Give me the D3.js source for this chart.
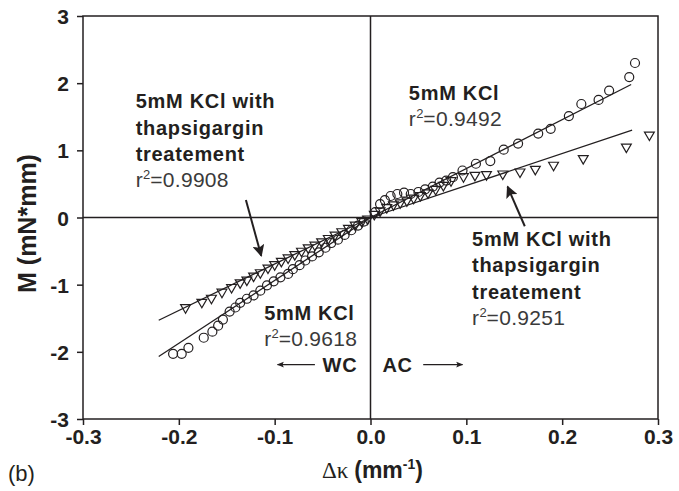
<!DOCTYPE html>
<html>
<head>
    <title>Moment vs curvature</title>
    <script type="text/javascript" src="https://cdn.jsdelivr.net/npm/d3@7/dist/d3.min.js"></script>
    <meta charset="utf-8" />
    <style>
        body { margin: 0; background: #fff; }
        svg text { font-family: "Liberation Sans", Arial, sans-serif; fill: #231f20; }
    </style>
</head>
<body>
    <svg width="679" height="491"></svg>
    <script>

        // 5mM KCl (circles)
        var circleK = [-0.206, -0.197, -0.190, -0.174, -0.165, -0.159, -0.154, -0.147, -0.141, -0.136,
                       -0.129, -0.122, -0.115, -0.108, -0.101, -0.094, -0.086, -0.081, -0.074, -0.068,
                       -0.061, -0.054, -0.047, -0.041, -0.034, -0.027, -0.020, -0.013, -0.007,
                        0.005, 0.010, 0.015, 0.021, 0.028, 0.035, 0.042, 0.050, 0.057, 0.065,
                        0.072, 0.079, 0.086, 0.096, 0.110, 0.125, 0.139, 0.154, 0.175, 0.188,
                        0.207, 0.220, 0.238, 0.249, 0.270, 0.276];
        var circleM = [-2.03, -2.03, -1.94, -1.79, -1.70, -1.61, -1.52, -1.40, -1.34, -1.27,
                       -1.21, -1.16, -1.09, -1.01, -0.95, -0.89, -0.84, -0.77, -0.71, -0.64,
                       -0.58, -0.52, -0.45, -0.38, -0.33, -0.26, -0.19, -0.12, -0.06,
                        0.08, 0.20, 0.26, 0.32, 0.35, 0.37, 0.35, 0.38, 0.42, 0.46,
                        0.52, 0.55, 0.60, 0.70, 0.80, 0.84, 1.01, 1.10, 1.25, 1.32,
                        1.51, 1.69, 1.75, 1.89, 2.09, 2.30];

        // 5mM KCl with thapsigargin (triangles)
        var triK = [-0.193, -0.176, -0.166, -0.155, -0.145, -0.136, -0.129, -0.122, -0.115, -0.107,
                    -0.100, -0.093, -0.086, -0.079, -0.072, -0.065, -0.058, -0.051, -0.044, -0.037,
                    -0.030, -0.023, -0.016, -0.009, -0.003,
                     0.004, 0.010, 0.017, 0.024, 0.031, 0.038, 0.045, 0.052, 0.060, 0.068,
                     0.076, 0.084, 0.097, 0.109, 0.121, 0.138, 0.156, 0.172, 0.191, 0.222,
                     0.267, 0.291];
        var triM = [-1.34, -1.26, -1.20, -1.11, -1.04, -0.97, -0.93, -0.87, -0.82, -0.75,
                    -0.70, -0.65, -0.60, -0.55, -0.50, -0.45, -0.41, -0.36, -0.31, -0.26,
                    -0.21, -0.16, -0.11, -0.06, -0.02,
                     0.05, 0.10, 0.15, 0.19, 0.22, 0.25, 0.29, 0.33, 0.37, 0.42,
                     0.48, 0.55, 0.61, 0.63, 0.64, 0.65, 0.68, 0.72, 0.78, 0.88,
                     1.05, 1.23];

        // linear fits, WC side and AC side
        var fitLines = [
            { k: [-0.221, 0], m: [-2.07, 0] },
            { k: [0, 0.272], m: [0, 1.98] },
            { k: [-0.221, 0], m: [-1.53, 0] },
            { k: [0, 0.273], m: [0, 1.30] }
        ];

        var xTicks = [-0.3, -0.2, -0.1, 0.0, 0.1, 0.2, 0.3];
        var yTicks = [-3, -2, -1, 0, 1, 2, 3];

        var svg = d3.select("svg"),
            margin = { left: 83, right: 21, top: 16, bottom: 72 },
            width = +svg.attr("width") - margin.left - margin.right,
            height = +svg.attr("height") - margin.top - margin.bottom;

        var x = d3.scaleLinear().domain([-0.3, 0.3]).range([0, width]);
        var y = d3.scaleLinear().domain([-3, 3]).range([height, 0]);

        var g = svg.append("g").attr("transform", "translate(" + margin.left + "," + margin.top + ")");

        var ink = "#231f20";

        // frame + zero lines
        g.append("rect").attr("width", width).attr("height", height)
            .attr("fill", "none").attr("stroke", ink).attr("stroke-width", 1.5);
        g.append("line").attr("x1", x(0)).attr("x2", x(0)).attr("y1", 0).attr("y2", height)
            .attr("stroke", ink).attr("stroke-width", 1.5);
        g.append("line").attr("x1", 0).attr("x2", width).attr("y1", y(0)).attr("y2", y(0))
            .attr("stroke", ink).attr("stroke-width", 1.5);

        var xAxis = g.append("g").attr("transform", "translate(0," + height + ")")
            .call(d3.axisBottom(x).tickValues(xTicks).tickSize(6).tickPadding(4)
                .tickFormat(function (d) { return d.toFixed(1); }));
        var yAxis = g.append("g")
            .call(d3.axisLeft(y).tickValues(yTicks).tickSize(6).tickPadding(8)
                .tickFormat(function (d) { return String(d); }));

        [xAxis, yAxis].forEach(function (a) {
            a.select(".domain").remove();
            a.selectAll("line").attr("stroke", ink).attr("stroke-width", 1.5);
            a.selectAll("text").attr("font-family", "Liberation Sans, Arial, sans-serif")
                .attr("font-weight", "bold").attr("font-size", 21).attr("fill", ink);
        });
        yAxis.selectAll("text").attr("dy", "0.36em");

        // fit lines
        var line = d3.line().x(function (d) { return x(d[0]); }).y(function (d) { return y(d[1]); });
        g.selectAll(".fit").data(fitLines).enter().append("path")
            .attr("class", "fit")
            .attr("d", function (d) { return line(d3.zip(d.k, d.m)); })
            .attr("fill", "none").attr("stroke", ink).attr("stroke-width", 1.3);

        // circles
        g.selectAll(".circ").data(d3.zip(circleK, circleM)).enter().append("circle")
            .attr("class", "circ")
            .attr("cx", function (d) { return x(d[0]); })
            .attr("cy", function (d) { return y(d[1]); })
            .attr("r", 4.5)
            .attr("fill", "none").attr("stroke", ink).attr("stroke-width", 1.2);

        // down triangles
        var tri = d3.symbol().type(d3.symbolTriangle).size(42);
        g.selectAll(".tri").data(d3.zip(triK, triM)).enter().append("path")
            .attr("class", "tri")
            .attr("d", tri)
            .attr("transform", function (d) { return "translate(" + x(d[0]) + "," + y(d[1]) + ") rotate(180)"; })
            .attr("fill", "none").attr("stroke", ink).attr("stroke-width", 1.2);

        // arrow markers
        var defs = svg.append("defs");
        defs.append("marker").attr("id", "bigHead")
            .attr("viewBox", "0 0 10 10").attr("refX", 9).attr("refY", 5)
            .attr("markerUnits", "userSpaceOnUse")
            .attr("markerWidth", 13).attr("markerHeight", 12).attr("orient", "auto")
            .append("path").attr("d", "M0,0 L10,5 L0,10 L2,5 Z").attr("fill", ink);
        defs.append("marker").attr("id", "smallHead")
            .attr("viewBox", "0 0 10 10").attr("refX", 9).attr("refY", 5)
            .attr("markerUnits", "userSpaceOnUse")
            .attr("markerWidth", 8).attr("markerHeight", 7).attr("orient", "auto")
            .append("path").attr("d", "M0,1 L10,5 L0,9 L2,5 Z").attr("fill", ink);

        function arrow(k1, m1, k2, m2, head, w) {
            g.append("line")
                .attr("x1", x(k1)).attr("y1", y(m1)).attr("x2", x(k2)).attr("y2", y(m2))
                .attr("stroke", ink).attr("stroke-width", w)
                .attr("marker-end", "url(#" + head + ")");
        }
        arrow(-0.130, 0.26, -0.114, -0.57, "bigHead", 2);
        arrow(0.161, -0.13, 0.143, 0.46, "bigHead", 2);
        arrow(-0.058, -2.19, -0.097, -2.19, "smallHead", 1.2);
        arrow(0.055, -2.19, 0.096, -2.19, "smallHead", 1.2);

        // annotation blocks
        function note(k, m, boldLines, r2) {
            var t = g.append("text").attr("x", x(k)).attr("y", y(m));
            boldLines.forEach(function (s, i) {
                t.append("tspan").attr("x", x(k)).attr("dy", i === 0 ? 0 : 26.5)
                    .attr("font-weight", "bold").attr("font-size", 20)
                    .attr("letter-spacing", 0.7).text(s);
            });
            var r = t.append("tspan").attr("x", x(k)).attr("dy", boldLines.length ? 26 : 0)
                .attr("font-size", 21).attr("letter-spacing", 0.3).attr("fill", "#3a3a3a");
            r.text("r");
            t.append("tspan").attr("font-size", 13).attr("dy", -8).attr("fill", "#3a3a3a").text("2");
            t.append("tspan").attr("font-size", 21).attr("dy", 8).attr("letter-spacing", 0.3)
                .attr("fill", "#3a3a3a").text("=" + r2);
        }
        note(-0.245, 1.63, ["5mM KCl with", "thapsigargin", "treatement"], "0.9908");
        note(0.040, 1.75, ["5mM KCl"], "0.9492");
        note(-0.111, -1.53, ["5mM KCl"], "0.9618");
        note(0.106, -0.42, ["5mM KCl with", "thapsigargin", "treatement"], "0.9251");

        g.append("text").attr("x", x(-0.050)).attr("y", y(-2.30))
            .attr("font-weight", "bold").attr("font-size", 20).attr("letter-spacing", 0.7).text("WC");
        g.append("text").attr("x", x(0.0125)).attr("y", y(-2.30))
            .attr("font-weight", "bold").attr("font-size", 20).attr("letter-spacing", 0.7).text("AC");

        // axis titles
        svg.append("text")
            .attr("transform", "translate(36," + (margin.top + y(0) + 6) + ") rotate(-90)")
            .attr("text-anchor", "middle").attr("font-weight", "bold").attr("font-size", 25)
            .text("M (mN*mm)");

        var xt = svg.append("text").attr("x", margin.left + x(0) + 2).attr("y", 478)
            .attr("text-anchor", "middle").attr("font-size", 23);
        xt.append("tspan").attr("font-family", "Liberation Serif, serif").text("\u0394\u03ba ");
        xt.append("tspan").attr("font-weight", "bold").text("(mm");
        xt.append("tspan").attr("font-weight", "bold").attr("font-size", 14).attr("dy", -9).text("-1");
        xt.append("tspan").attr("font-weight", "bold").attr("dy", 9).text(")");

        svg.append("text").attr("x", 8).attr("y", 481)
            .attr("font-family", "Liberation Serif, serif").attr("font-size", 22).text("(b)");

    </script>
</body>
</html>
